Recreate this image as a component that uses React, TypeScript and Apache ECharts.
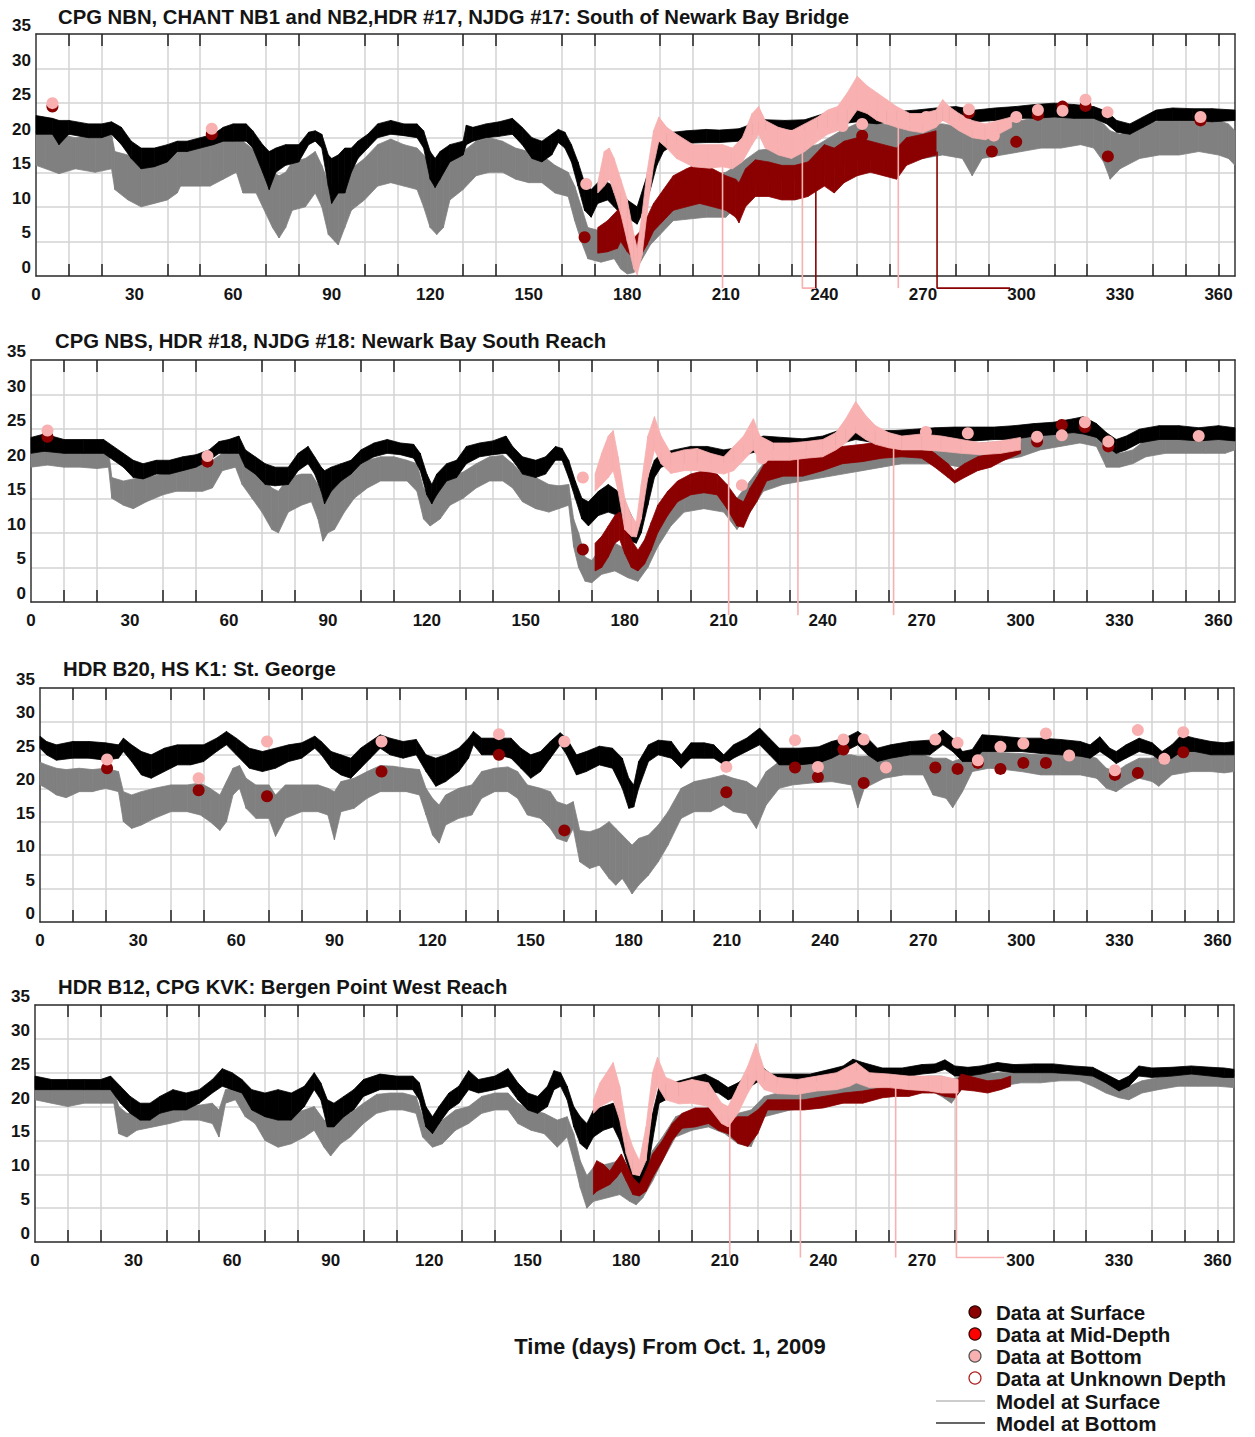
import React, { useEffect, useRef } from "react";
import * as echarts from "echarts";

// Salinity (psu) vs. time (days from Oct. 1, 2009) at four stations.
// Model series are stored as [day, low, high] envelopes of the tidal signal,
// continuous measurements likewise; discrete casts are [day, salinity].

type Band = [number, number, number][];
type Pt = [number, number][];

const DAY_LABELS = [0, 30, 60, 90, 120, 150, 180, 210, 240, 270, 300, 330, 360];
const DAY_MINOR = [10, 20, 40, 50, 70, 80, 100, 110, 130, 140, 160, 170, 190, 200, 220, 230, 250, 260, 280, 290, 310, 320, 340, 350, 360];

const TITLES = [
  "CPG NBN, CHANT NB1 and NB2,HDR #17, NJDG #17: South of Newark Bay Bridge",
  "CPG NBS, HDR #18, NJDG #18: Newark Bay South Reach",
  "HDR B20, HS K1: St. George",
  "HDR B12, CPG KVK: Bergen Point West Reach",
];
const X_CAPTION = "Time (days) From Oct. 1, 2009";
const LEGEND_LABELS = [
  "Data at Surface",
  "Data at Mid-Depth",
  "Data at Bottom",
  "Data at Unknown Depth",
  "Model at Surface",
  "Model at Bottom",
];

/* ---------------- Panel 1: South of Newark Bay Bridge ---------------- */
const P1_MODEL_SURF: Band = [
  [0, 16, 21.5], [3, 15.5, 20.5], [7, 14.8, 20.5], [12, 15.5, 20], [18, 15, 20.5], [23, 15.5, 20.5],
  [24, 12.5, 18], [28, 11, 17.5], [32, 10, 16.5], [36, 10.5, 16], [40, 11, 17], [43, 12, 18],
  [44, 13, 18.5], [50, 13, 18.5], [53, 13, 19], [57, 14, 20.5], [61, 15, 20.5], [63, 12, 19.5],
  [67, 12, 18], [70, 9, 16], [72, 7, 15], [74, 5.5, 14.5], [76, 7, 15], [78, 9.5, 16.5], [82, 10, 17],
  [85, 12, 18], [87, 10, 16], [89, 6, 13.5], [91, 5, 13], [92, 4.5, 13.5], [94, 7, 14.5], [96, 9.5, 15.5],
  [100, 11, 17], [104, 13, 19], [108, 13.5, 19.8], [112, 13, 19], [116, 12.5, 18.5], [118, 10, 17.5],
  [120, 7, 16], [122, 6, 15.5], [124, 7, 16], [126, 11, 17.5], [130, 12.5, 18], [134, 14.5, 19.5],
  [138, 15, 20], [142, 15, 19.5], [146, 14, 18.5], [150, 13.5, 18], [154, 13.5, 17.5], [158, 12, 16],
  [162, 11.5, 15], [164, 8, 13], [166, 5, 10], [168, 2.5, 7], [172, 2, 6.5], [176, 2.5, 7], [178, 1, 6],
  [180, 0.3, 4], [182, 0.5, 4.5], [184, 2, 6.5], [187, 4.5, 9], [190, 6, 10.5], [194, 8, 13],
  [198, 8.2, 14], [204, 8.5, 14.5], [210, 8.5, 15], [215, 11, 16.5], [220, 13.5, 18.2], [226, 14, 18.5],
  [232, 14, 18.5], [238, 14, 19], [245, 16, 21], [252, 17, 22.5], [258, 17, 22], [264, 17, 21.5],
  [270, 17, 22], [276, 17.5, 22], [282, 17, 21.5], [285, 14.5, 21], [288, 17, 21.5], [294, 17.5, 22],
  [300, 18, 22.5], [306, 18.5, 23], [312, 18.5, 23], [318, 19, 23.5], [322, 18.5, 23], [325, 16.5, 22],
  [327, 14, 21], [330, 15.5, 20.5], [336, 17, 21.5], [342, 17.5, 22.5], [348, 17.5, 22.5],
  [354, 18, 22.5], [360, 17.5, 22.5], [363, 17, 22], [365, 16, 21],
];
const P1_MODEL_BOT: Band = [
  [0, 20.5, 23.2], [5, 20.5, 22.8], [7, 19, 22.5], [10, 20.5, 22.5], [16, 20, 22], [20, 20, 22],
  [23, 20.5, 22.3], [26, 19, 21.5], [29, 17, 19.5], [32, 15.5, 18.5], [36, 15.8, 18.5], [40, 16.5, 19],
  [43, 18, 19.5], [46, 18, 19.5], [50, 18.5, 20], [54, 19, 20.5], [57, 19.5, 21.5], [60, 19.5, 22],
  [64, 19.5, 22], [66, 18.5, 21], [69, 15, 19], [71, 12.5, 18], [73, 15, 18.5], [76, 16, 19],
  [80, 16.5, 19], [83, 19, 20.8], [85, 19.5, 21], [87, 18.5, 20.5], [89, 13, 17.5], [90, 10.5, 17],
  [92, 12, 17.5], [94, 12, 18.5], [96, 15, 18.5], [98, 17, 19.5], [101, 18.5, 20.5], [104, 20, 22],
  [108, 20.5, 22.5], [112, 20.3, 22], [116, 20, 22], [118, 18.5, 21], [120, 14, 18], [121.5, 12.8, 17],
  [123, 14, 18], [126, 16.5, 19], [130, 17.5, 19.5], [131, 19, 21.8], [133, 19.5, 21.5], [137, 20, 22],
  [141, 20.2, 22.3], [145, 20.5, 22.8], [148, 19, 21.5], [151, 17, 20], [154, 16.5, 19.5],
  [157, 17.5, 20.5], [159, 19.3, 21.2], [161, 18.5, 20.8], [163, 16.5, 19], [165, 13, 16.5],
  [167, 9.5, 13.5], [169, 8.5, 12.5], [171, 10.5, 13.5], [174, 11, 13.5], [176, 10, 13], [178, 9, 12],
  [180, 8.5, 11], [183, 7.5, 10], [185, 9.5, 13], [187, 12.5, 16], [189, 16, 19], [191, 18, 20.5],
  [194, 19, 20.8], [198, 19.2, 21], [204, 19.3, 21.2], [208, 19.3, 21.1], [214, 19.5, 21.3],
  [218, 20.5, 22], [222, 21.2, 22.6], [228, 21.2, 22.5], [234, 21.1, 22.6], [240, 21.5, 23.5],
  [245, 22, 24], [250, 22.3, 24.2], [256, 22, 23.8], [262, 22.5, 23.8], [268, 22.5, 24],
  [274, 22.5, 24.3], [280, 22.5, 24.5], [286, 22.3, 24], [292, 22.5, 24.3], [298, 22.8, 24.5],
  [304, 22.8, 24.8], [310, 23, 25], [316, 22.8, 24.8], [322, 22.8, 24.5], [326, 22, 23.8],
  [329, 20.8, 22.5], [333, 20.5, 22], [337, 21.5, 23], [341, 22.5, 24], [346, 22.5, 24.3],
  [352, 22.5, 24.2], [358, 22.3, 24.2], [365, 22.5, 24],
];
const P1_DATA_SURF: Band = [
  [171, 3.3, 7], [174, 3.5, 8], [177, 4, 9.5], [178, 5, 10], [180, 3.5, 8], [182, 2.5, 5.5],
  [184, 2.9, 6.5], [186, 4.5, 8.5], [188, 6.5, 10.5], [191, 8, 12.5], [194, 9.5, 14.5],
  [198, 10, 15.5], [202, 10.5, 16.3], [206, 10, 15.5], [210, 9.5, 14.5], [213, 8.5, 14],
  [214, 7.7, 13.5], [216, 10, 15.5], [219, 11.5, 16.8], [223, 11.5, 16.5], [227, 11, 16],
  [231, 11, 16], [235, 11.5, 16.5], [240, 13, 19], [243, 12, 18.5], [246, 13.5, 19.5],
  [250, 14.5, 20], [254, 15, 19.5], [258, 14.5, 19], [262, 14, 18.5], [265, 16, 20], [270, 17, 20.5],
  [274, 17.5, 21],
];
const P1_DATA_BOT: Band = [
  [171, 12, 13.5], [173, 13, 18], [174.5, 14, 18.5], [176, 12, 17], [178, 9, 14], [180, 5, 11],
  [182, 1, 6], [183, 0.2, 4], [184.5, 3, 9], [186, 9, 15], [188, 16, 21], [189.6, 19.5, 23],
  [192, 18.5, 21.5], [195, 17, 20.5], [200, 15.8, 19], [205, 15.6, 19], [209, 15.8, 19],
  [212, 15.5, 18.5], [215, 16.5, 20], [218, 19, 23.5], [220, 20.5, 24.5], [222, 18.5, 22.5],
  [226, 17.5, 21.5], [230, 17, 21], [234, 18, 22], [238, 19.5, 23], [241, 20.5, 24], [244, 21, 24.5],
  [247, 22, 26.5], [250, 24, 28.9], [253, 23.5, 27.5], [256, 22.5, 26.5], [259, 22, 25.5],
  [262, 21.5, 24.5], [266, 21, 23.5], [270, 20.7, 23.5], [274, 21.5, 24], [276, 22.5, 25.5],
  [278, 22, 24.5], [281, 21, 23.5], [285, 20, 22.5], [289, 19.7, 22], [293, 20.5, 22.5],
  [297, 21.5, 23],
];
const P1_DOTS_SURF: Pt = [
  [5, 24.5], [53.5, 20.5], [167, 5.6], [251.5, 20.3], [284, 23.6], [291, 18], [298.4, 19.4],
  [305, 23.3], [312.5, 24.5], [319.5, 24.6], [326.3, 17.3], [354.5, 22.5],
];
const P1_DOTS_BOT: Pt = [
  [5, 25], [53.5, 21.3], [167.5, 13.3], [245.5, 21.7], [251.5, 22], [271, 23], [284, 24.1],
  [291.6, 20.3], [298.4, 23], [305, 24], [312.5, 23.9], [319.5, 25.5], [326.2, 23.7], [354.5, 23],
];
const P1_GAPS_BOT: Pt[] = [
  [[209, 16], [209, -1.75]],
  [[233.3, 20], [233.3, -1.75], [237.4, -1.75]],
  [[262.5, 23], [262.5, -1.75]],
];
const P1_GAPS_SURF: Pt[] = [
  [[237.4, -1.75], [237.4, 17]],
  [[274.3, 18], [274.3, -1.75], [296.5, -1.75]],
];

/* ---------------- Panel 2: Newark Bay South Reach ---------------- */
const P2_MODEL_SURF: Band = [
  [0, 19.5, 22.5], [5, 19.8, 22.3], [10, 19.5, 22], [15, 19.5, 22], [20, 19.3, 21.8], [23.5, 19.5, 22],
  [24.5, 15, 18], [28, 14, 17.5], [31, 13.5, 17.8], [35, 14.5, 18], [40, 15.5, 18.5], [44, 16, 19],
  [48, 16, 19.5], [52, 16, 20], [55, 16.5, 20.5], [58, 19, 21.5], [62, 19.5, 22], [64, 17, 20.5],
  [67, 15, 19.5], [70, 13, 18], [73, 10.5, 16.5], [75, 10, 16], [78, 13, 18], [82, 14, 18.5],
  [85, 14.5, 18.5], [87, 12, 17], [88.5, 8.8, 15.5], [90, 10, 16], [92, 10.5, 16.5], [95, 13, 18],
  [98, 15, 19.5], [102, 16.5, 20.5], [106, 17.5, 21], [110, 17.5, 21], [114, 17.5, 20.5], [117, 16, 20],
  [119, 12, 16.5], [121, 11, 15.5], [124, 12, 16.5], [127, 14, 18], [131, 15, 18.8], [135, 16.5, 20],
  [139, 17.5, 21], [143, 17.5, 21.2], [146, 16.5, 20], [149, 14.5, 18.5], [153, 13.5, 18],
  [157, 13, 17], [160, 13.5, 16.8], [163, 14, 17], [164.5, 8, 12], [166, 5, 10], [168, 3, 6.5],
  [170, 2.8, 6], [173, 4, 8], [177, 4.5, 8.5], [181, 3.5, 7.5], [184, 3, 7], [187, 5, 9.5],
  [190, 8, 13], [194, 11, 16], [198, 13, 17], [204, 13.5, 17.5], [210, 13, 17], [214, 10.5, 15],
  [218, 13, 17.5], [222, 16, 20], [228, 17, 20.5], [234, 17.5, 21], [240, 18, 21.5], [246, 18.5, 22],
  [252, 19, 22.5], [258, 19.5, 22.5], [264, 20, 23], [270, 20, 23], [276, 20, 23], [282, 19.5, 22.5],
  [288, 20, 23], [294, 20.5, 23.2], [300, 21, 23.5], [306, 22, 24.5], [312, 22.5, 25], [318, 23, 25],
  [323, 22.5, 24.5], [326, 19.5, 22.5], [330, 19.5, 21.5], [334, 20, 22], [338, 21, 23.5],
  [344, 21.5, 24], [350, 21.5, 24.2], [356, 21.5, 24], [362, 21.5, 24.5], [365, 22, 24.5],
];
const P2_MODEL_BOT: Band = [
  [0, 21.5, 23.8], [4, 21.8, 24.3], [10, 21.5, 23.5], [16, 21.5, 23.5], [22, 21.5, 23.5],
  [25, 20.5, 22.5], [28, 19.5, 21.5], [31, 18, 20.5], [34, 17.8, 20], [38, 18.5, 20.5],
  [42, 18.5, 20.5], [46, 19, 21], [50, 19.5, 21.3], [54, 20.5, 22], [57, 21.5, 23.2], [60, 21.5, 23.5],
  [63, 21.5, 24], [65, 19.5, 22], [68, 18.5, 21], [71, 17, 20], [74, 16.8, 19.5], [78, 17, 19.5],
  [81, 19, 21.5], [84, 20, 22.5], [86, 18.5, 21], [88, 16, 19.5], [89, 14.2, 19], [91, 16, 19.5],
  [94, 17.5, 20], [97, 18.5, 20.5], [100, 20, 22], [104, 21, 23], [108, 21.5, 23.5], [112, 21.3, 23],
  [116, 20.8, 22.8], [118, 19, 21.5], [120, 15.5, 18.5], [121.5, 14.2, 17], [123, 15.5, 18.5],
  [126, 17.5, 20], [129, 18, 20.5], [132, 20, 22.5], [136, 21, 23], [140, 21.3, 23.3], [144, 21.5, 24],
  [146, 20.5, 22.5], [149, 18.5, 21], [153, 18, 20.5], [156, 18.5, 21], [159, 20.5, 22.5],
  [161, 20.5, 22.2], [163, 18, 20.5], [165, 15, 17.5], [167, 12, 15], [169, 11, 14.5],
  [172, 12.5, 16], [175, 13, 17], [178, 12.5, 16], [180, 11, 14.5], [182, 8.8, 12.5],
  [183.5, 8.5, 11], [185, 10, 14], [187, 14, 18], [189, 18, 20.5], [191, 19.5, 21.5], [195, 20, 22],
  [200, 20.2, 22.5], [205, 20.3, 22.5], [210, 20.2, 22], [214, 20.5, 22.3], [218, 21.5, 23.3],
  [222, 22, 24], [228, 22.2, 23.8], [234, 22, 23.6], [240, 22.2, 24], [246, 23, 25], [250, 23.5, 25.3],
  [256, 23, 24.8], [262, 22.8, 24.8], [268, 23, 25], [274, 23.2, 25.2], [280, 23.3, 25.3],
  [286, 23.3, 25.3], [292, 23.5, 25.3], [298, 23.5, 25.5], [304, 24, 25.8], [310, 24.2, 26],
  [316, 24.5, 26.5], [319, 24.3, 26.8], [323, 23.8, 25.8], [326, 22.5, 24.5], [329, 21.5, 23.5],
  [332, 22, 24], [336, 23, 25], [342, 23.5, 25.5], [348, 23.5, 25.5], [354, 23.3, 25.2],
  [360, 23.5, 25.5], [365, 23.3, 25.2],
];
const P2_DATA_SURF: Band = [
  [171, 4.5, 8.5], [173, 5, 9.5], [175, 6.5, 11], [177, 8.5, 12.5], [178.5, 9, 13], [180, 7, 11],
  [182, 5, 9], [184, 4.5, 7.5], [186, 5.5, 9], [188, 7.5, 11.5], [190, 10, 14], [193, 12.5, 16],
  [196, 14.5, 17.5], [200, 15.5, 18.5], [204, 15.8, 19], [208, 15.5, 18.5], [211, 13.5, 17],
  [214, 11, 15], [216, 10.8, 14.5], [218, 13, 16.5], [220, 14.5, 18], [223, 17.5, 20.5],
  [228, 18.2, 21], [234, 18.2, 21], [240, 19, 22], [246, 20, 22.5], [252, 20.3, 22.8],
  [258, 20.8, 23.2], [264, 21, 23.3], [270, 20.8, 23], [274, 19.5, 21.5], [278, 18, 20],
  [280, 17.2, 19], [283, 18, 20], [287, 19, 21], [291, 19.5, 21.5], [295, 20.5, 22.3], [300, 21.5, 23],
];
const P2_DATA_BOT: Band = [
  [171, 16, 18.5], [173, 17, 21.5], [175, 18, 24], [176.5, 19, 24.8], [178, 16, 21], [180, 10.5, 15],
  [182, 9.5, 12.5], [183.5, 9.4, 11.5], [185, 12, 17], [187, 18, 24], [189, 22, 26.8], [191, 20, 24],
  [194, 18.6, 21.5], [198, 19, 22], [202, 19, 22.2], [206, 18.8, 21.5], [210, 18.5, 21],
  [213, 19, 22.5], [216, 20.5, 24], [219, 22, 26.5], [221, 20.5, 24], [225, 20.5, 23], [230, 20.5, 23],
  [235, 20.8, 23.2], [240, 21, 23.5], [244, 22, 24.5], [247, 23, 26.5], [250, 24.5, 29],
  [253, 23.5, 27], [256, 22.8, 25.5], [260, 22.3, 24.5], [264, 22, 24], [270, 22, 24.3],
  [276, 21.8, 24], [282, 21.5, 23.5], [288, 21.3, 23], [294, 21.5, 23.3], [300, 22, 23.8],
];
const P2_DOTS_SURF: Pt = [
  [5, 23.9], [53.5, 20.3], [167.3, 7.6], [305, 23.2], [312.5, 25.6], [319.5, 25.3], [326.6, 22.5],
];
const P2_DOTS_BOT: Pt = [
  [5, 24.8], [53.5, 21.1], [167.3, 18], [215.5, 16.9], [221.7, 20.8], [271.3, 24.6], [284, 24.4],
  [305, 23.9], [312.5, 24.1], [319.5, 26], [326.6, 23.2], [354, 24],
];
const P2_GAPS_BOT: Pt[] = [
  [[211.5, 20], [211.5, -1.9]],
  [[232.5, 21], [232.5, -1.9]],
  [[261.5, 23], [261.5, -1.9]],
];
const P2_GAPS_SURF: Pt[] = [];

/* ---------------- Panel 3: St. George ---------------- */
const P3_MODEL_SURF: Band = [
  [0, 20.5, 23.9], [2, 20, 23.5], [5, 19, 23], [8, 18.6, 22.8], [12, 19.5, 23], [16, 19.5, 22.8],
  [20, 20, 23], [24, 19.5, 22.5], [25.5, 15, 19.5], [28, 14, 19], [31, 14.5, 19.5], [35, 15.5, 20],
  [40, 16.5, 20.5], [45, 16.5, 20.5], [49, 16, 20.8], [52, 15, 20], [55, 13.7, 19], [57, 15, 21],
  [59, 19, 23], [61, 20, 23.4], [63, 17, 21.5], [66, 15.5, 20.5], [70, 15.5, 20.5], [72, 12.8, 19],
  [75, 15.5, 20.5], [80, 16.5, 20.5], [85, 16.5, 20.5], [88, 16, 20], [90, 12.3, 19.5], [92, 16.5, 21],
  [96, 17, 21.5], [100, 18.5, 22.5], [104, 19.5, 23.4], [108, 19.5, 23.3], [112, 19.5, 23],
  [116, 19, 22.8], [118, 16, 20], [120, 13, 18.5], [122, 11.8, 17.5], [124, 14.5, 19], [128, 15.5, 20],
  [132, 16, 20.5], [135, 18.5, 22.5], [139, 19.5, 23], [143, 19.5, 23.2], [146, 18.5, 22.5],
  [149, 16, 20.5], [153, 15.5, 20], [156, 14, 19.5], [158, 12.5, 18], [161, 12, 17.5], [163, 14, 18],
  [165, 9, 13.7], [168, 8, 13.5], [171, 8.5, 14], [174, 6.5, 15], [176, 5.5, 14], [178, 6.5, 13],
  [180, 5, 12], [181, 4.2, 11.5], [183, 5.5, 12.5], [186, 7, 13], [189, 9, 14.5], [192, 11.5, 16.5],
  [196, 15.5, 20], [200, 16.5, 21], [205, 16.5, 21.5], [209, 17.5, 22], [212, 16.5, 21.5],
  [216, 16.2, 21], [219, 14, 20], [222, 17.5, 22.5], [226, 20, 24], [230, 20.5, 24.5],
  [236, 20.8, 24.8], [242, 21, 25], [248, 20.5, 25], [250, 17.1, 24.8], [252, 20, 24.8],
  [258, 21.5, 25], [264, 22, 25], [270, 22, 25], [273, 19, 24.5], [277, 18.5, 24.5], [279, 17.1, 24],
  [282, 19.5, 24.5], [285, 22.5, 25.3], [290, 23, 25.5], [295, 22.8, 25.3], [300, 22.5, 25.2],
  [306, 22, 25], [312, 22, 25], [318, 22, 25.2], [323, 21.5, 24.5], [326, 20, 23], [329, 19.5, 22.5],
  [332, 20.5, 23.5], [336, 21.5, 24.5], [340, 21, 24.5], [342, 20.3, 24.8], [346, 22, 25.5],
  [352, 22.5, 25.8], [358, 22.5, 25.5], [362, 22.3, 25.7], [365, 22.5, 25.8],
];
const P3_MODEL_BOT: Band = [
  [0, 26, 27.8], [2, 25, 27], [5, 24.2, 26.5], [10, 24.5, 27], [15, 24.5, 27], [20, 24.2, 26.8],
  [24, 24.5, 26.5], [25.5, 25.5, 27.5], [28, 24, 26.5], [31, 22, 25.5], [34, 21.5, 25], [38, 22.5, 26],
  [42, 23.5, 26.5], [46, 23.5, 26.5], [50, 24, 26.5], [54, 25.5, 27.5], [57, 26.5, 28.5], [60, 25, 27.5],
  [64, 23, 26], [68, 22.5, 25.5], [72, 23, 26], [76, 24, 26.5], [80, 24.5, 26.8], [84, 26, 27.8],
  [86, 25, 27], [89, 23, 25.5], [92, 22, 25], [95, 21.5, 24.5], [98, 23, 26], [101, 24.5, 27],
  [104, 26, 28], [107, 25, 27.5], [111, 24.5, 27], [115, 25, 27.3], [118, 22.5, 25], [121, 20.3, 24.5],
  [124, 21, 25], [128, 22.5, 26], [131, 24.5, 27.5], [132.5, 26.5, 28.5], [135, 25, 27.5],
  [140, 25, 27.5], [144, 24.5, 27.5], [147, 23, 26], [150, 21.5, 25], [153, 22.5, 25.5],
  [156, 24.5, 27], [159, 26.5, 28.3], [161, 25, 27.5], [164, 22, 25], [167, 22.5, 25.5],
  [171, 23.5, 26.3], [175, 23, 26], [178, 20, 24.5], [180, 17, 21.5], [181.5, 17.2, 20.5],
  [183, 20, 24], [186, 24, 26.5], [189, 25, 27.2], [193, 24.5, 27], [196, 23, 25], [199, 24.5, 26.8],
  [203, 24.5, 26.8], [206, 24.5, 26.5], [209, 23.5, 25], [212, 24.5, 26.5], [216, 25.5, 27.5],
  [220, 26.5, 29], [223, 25, 27.5], [226, 23.5, 26], [232, 23.5, 26], [238, 23.8, 26.2],
  [242, 24.5, 27], [246, 25.5, 27.5], [250, 26.5, 28.5], [253, 25, 27.5], [256, 24, 26],
  [260, 24.5, 26.5], [266, 25, 27], [272, 25, 27.2], [276, 26.5, 28.7], [279, 25.5, 27.5],
  [282, 24, 25.5], [285, 24, 25.8], [288, 25.5, 28], [294, 25.5, 27.8], [300, 25.5, 27.5],
  [306, 25.2, 27.5], [312, 25, 27.3], [318, 24.8, 27], [321, 24.5, 26.5], [324, 25.5, 27.7],
  [327, 24.5, 26], [329, 23.7, 25.5], [332, 24.5, 26.5], [336, 25.5, 27.5], [340, 25, 26.8],
  [343, 24, 25.5], [346, 24.5, 26.5], [349, 25.5, 28], [353, 25.5, 27.5], [358, 25, 27],
  [362, 25, 26.8], [365, 25, 27],
];
const P3_DATA_SURF: Band = [];
const P3_DATA_BOT: Band = [];
const P3_DOTS_SURF: Pt = [
  [20.5, 23], [48.5, 19.7], [69.4, 18.8], [104.4, 22.5], [140.3, 25], [160.3, 13.7], [209.8, 19.4],
  [230.8, 23.1], [237.8, 21.7], [245.6, 25.8], [251.8, 20.8], [273.7, 23.1], [280.5, 22.9],
  [286.7, 23.8], [293.6, 22.9], [300.6, 23.8], [307.5, 23.8], [328.6, 22], [335.6, 22.3], [349.5, 25.4],
];
const P3_DOTS_BOT: Pt = [
  [20.5, 24.3], [48.5, 21.5], [69.4, 27], [104.4, 27], [140.3, 28.1], [160.3, 27], [209.8, 23.2],
  [230.8, 27.2], [237.8, 23.2], [245.6, 27.3], [251.8, 27.3], [258.6, 23.1], [273.7, 27.3],
  [280.5, 26.8], [286.7, 24.2], [293.6, 26.2], [300.6, 26.7], [307.5, 28.2], [314.6, 24.9],
  [328.6, 22.7], [335.6, 28.7], [343.7, 24.4], [349.5, 28.4],
];
const P3_GAPS_BOT: Pt[] = [];
const P3_GAPS_SURF: Pt[] = [];

/* ---------------- Panel 4: Bergen Point West Reach ---------------- */
const P4_MODEL_SURF: Band = [
  [0, 21, 22.8], [5, 20.5, 22.8], [10, 20, 22.5], [15, 20.5, 22.5], [20, 20.5, 22.8], [24, 20.5, 22.5],
  [25.5, 16, 20], [28, 15.5, 19], [31, 16.5, 19], [36, 17, 19], [41, 17.5, 19.5], [45, 18, 20],
  [50, 18, 20.2], [54, 17.5, 20.5], [56, 15.5, 19.5], [58, 20.5, 22.5], [61, 21, 22.8],
  [64, 18.5, 21.5], [67, 17.5, 20.5], [70, 15, 19.5], [74, 14, 19], [78, 14.5, 19], [82, 15.5, 19.5],
  [85, 16.5, 20], [88, 14, 18], [90, 12.7, 17.5], [93, 14.5, 18.5], [96, 15.5, 19], [100, 17.5, 20.5],
  [104, 19, 21.8], [108, 19.5, 22], [112, 19.5, 22], [116, 19, 21.5], [118, 15.5, 18.5],
  [121, 14, 17.5], [124, 14.5, 18], [128, 16.5, 19.5], [132, 17.5, 20], [136, 19, 21.5],
  [140, 19.5, 22], [144, 19.5, 22], [147, 17.5, 20.5], [151, 16.5, 19.5], [155, 16, 19],
  [159, 14, 18], [162, 15.5, 18.5], [164, 12, 16], [166, 8, 12], [168, 5, 9.8], [170, 6, 11],
  [174, 6.5, 11.5], [178, 7, 12], [181, 6, 10.5], [183, 5.5, 9], [185, 6.5, 10], [188, 9, 13.5],
  [191, 12, 15.5], [195, 15.5, 18.5], [200, 16.5, 19.5], [205, 17, 19.8], [210, 16, 18.5],
  [214, 14.5, 19], [218, 14.1, 19.5], [222, 18.5, 21.5], [230, 19.5, 22.5], [240, 20, 23],
  [248, 21, 23.5], [254, 22, 24.2], [260, 22, 24], [266, 22, 24.2], [272, 22.5, 24.5],
  [276, 21.5, 24.5], [279, 20.5, 24], [282, 22.5, 24.5], [288, 23, 24.8], [294, 23, 25],
  [300, 23.5, 25], [306, 23.5, 25.2], [312, 23.8, 25.3], [318, 23.8, 25.2], [322, 23, 24.8],
  [326, 22, 23.8], [330, 21.3, 22.8], [333, 21, 23], [337, 22, 23.8], [342, 22.5, 24.3],
  [348, 23, 24.8], [354, 23, 24.8], [360, 23, 24.8], [365, 22.8, 24.5],
];
const P4_MODEL_BOT: Band = [
  [0, 22.5, 24.5], [5, 22.5, 24], [10, 22.5, 24], [15, 22.5, 24], [20, 22.5, 24], [23, 22.5, 24.5],
  [26, 20.5, 23], [29, 19, 21.5], [32, 18, 20.5], [35, 18, 20.5], [38, 19, 21.5], [42, 19.5, 22.5],
  [46, 19.5, 22], [50, 20.5, 22.5], [54, 22, 24], [57, 23, 25.6], [60, 22.5, 25], [63, 22, 24],
  [66, 19.5, 22.5], [70, 18.5, 22], [74, 18, 22.5], [78, 18, 22], [82, 20, 23], [85, 22.5, 25],
  [87, 21, 23.5], [89, 17, 21], [91, 17, 20.5], [94, 18.5, 21.5], [97, 19.5, 22.5], [100, 21.5, 24],
  [105, 22.5, 24.8], [110, 22.5, 24.5], [115, 22.5, 24.5], [117, 21, 23.5], [119, 17, 20],
  [121, 16, 18.5], [123, 17.5, 20], [126, 19.5, 22], [129, 20.5, 23], [132, 22.5, 25.3],
  [135, 22, 24], [140, 22.5, 24.5], [144, 23, 25.6], [147, 21, 23.5], [150, 19.5, 22],
  [153, 19, 21.5], [156, 20, 23], [158, 22.5, 25.3], [160, 23, 25], [162, 21, 23], [164, 17, 20],
  [166, 14.5, 18.5], [168, 13.7, 17.5], [170, 15.5, 19.5], [173, 16.5, 20], [176, 17, 20.5],
  [178, 15, 19], [180, 12, 16], [182, 8.5, 11.5], [184, 7.9, 10.3], [186, 9, 12.5], [188, 15, 19],
  [190, 20.5, 23], [194, 21.5, 23.5], [200, 22, 24.3], [204, 22.5, 24.8], [208, 22, 23.8],
  [211, 21, 22.8], [214, 21.5, 23.5], [218, 23, 25], [221, 24, 26], [224, 23.3, 24.8],
  [230, 23.5, 24.8], [236, 23.5, 24.8], [242, 24, 25.5], [246, 24.5, 26], [249, 25.5, 27],
  [252, 25, 26.5], [258, 24.3, 25.7], [264, 24.3, 25.7], [270, 24.8, 26.2], [274, 25, 26.3],
  [277, 25.5, 26.9], [280, 24.5, 26], [284, 24.5, 25.8], [288, 24.8, 26], [293, 25.3, 26.5],
  [298, 25, 26.2], [304, 25, 26.3], [310, 25, 26.3], [316, 24.8, 26], [322, 24.5, 25.8],
  [326, 23.5, 24.8], [330, 22.3, 23.8], [333, 23, 24.5], [336, 24.5, 26], [340, 24.3, 25.7],
  [346, 24.5, 25.8], [352, 24.8, 26], [358, 24.5, 25.8], [362, 24.3, 25.7], [365, 24.3, 25.5],
];
const P4_DATA_SURF: Band = [
  [170, 7, 11], [171, 7.5, 12], [173, 8, 11.5], [175, 8.5, 10.5], [177, 9.5, 12], [178.5, 10.5, 13],
  [180, 9, 11.5], [182, 7, 9.5], [184, 6.8, 8.5], [186, 7.5, 10.5], [188, 9.5, 13], [191, 12, 15],
  [194, 15, 17.5], [197, 16.8, 19], [201, 17, 19.8], [205, 17.5, 19.8], [208, 16.5, 18.5],
  [211, 16, 18], [214, 14.6, 18.5], [217, 14.1, 18.5], [220, 16, 19.5], [223, 19.5, 21],
  [228, 19.5, 21], [234, 19.5, 21], [240, 19.8, 21.5], [246, 20.5, 22], [252, 20.5, 22.3],
  [258, 21.3, 22.8], [262, 21.5, 23.3], [266, 21.5, 23], [270, 22, 23.3], [274, 22, 23.5],
  [277, 21.5, 23.5], [280, 21.3, 23.3], [282, 22.5, 24.8], [286, 22.3, 24.3], [290, 22, 23.8],
  [294, 22.5, 24], [297, 23, 24.5],
];
const P4_DATA_BOT: Band = [
  [170, 19, 21], [172, 20, 23.5], [174, 20.5, 25], [176, 21, 26.5], [178, 18, 23], [180, 13, 17],
  [182, 10, 14], [184, 9.8, 12], [186, 12, 17], [188, 20, 25], [189.5, 23, 27.3], [192, 21, 24.3],
  [196, 20.4, 23.5], [200, 20.5, 24], [205, 20, 23.5], [209, 17.5, 20.5], [211, 17, 20],
  [214, 19, 23], [217, 22, 26], [219.5, 24, 29.3], [222, 22.5, 25.5], [226, 21.9, 24.3],
  [232, 21.8, 24], [238, 22.3, 24.5], [244, 22.5, 25], [248, 23, 26], [250, 23.5, 26.5],
  [254, 22.8, 25], [260, 22.8, 24.8], [266, 22.5, 24.5], [272, 22.3, 24.5], [276, 22, 24.5],
  [281, 22, 24],
];
const P4_DOTS_SURF: Pt = [];
const P4_DOTS_BOT: Pt = [];
const P4_GAPS_BOT: Pt[] = [
  [[211.5, 18], [211.5, -2.3]],
  [[233, 22], [233, -2.3]],
  [[262, 23], [262, -2.3]],
  [[280.5, 23], [280.5, -2.3], [295, -2.3]],
];
const P4_GAPS_SURF: Pt[] = [];

const PANELS = [
  { gray: P1_MODEL_SURF, black: P1_MODEL_BOT, surf: P1_DATA_SURF, bott: P1_DATA_BOT, surfDots: P1_DOTS_SURF, bottDots: P1_DOTS_BOT, gapsBot: P1_GAPS_BOT, gapsSurf: P1_GAPS_SURF },
  { gray: P2_MODEL_SURF, black: P2_MODEL_BOT, surf: P2_DATA_SURF, bott: P2_DATA_BOT, surfDots: P2_DOTS_SURF, bottDots: P2_DOTS_BOT, gapsBot: P2_GAPS_BOT, gapsSurf: P2_GAPS_SURF },
  { gray: P3_MODEL_SURF, black: P3_MODEL_BOT, surf: P3_DATA_SURF, bott: P3_DATA_BOT, surfDots: P3_DOTS_SURF, bottDots: P3_DOTS_BOT, gapsBot: P3_GAPS_BOT, gapsSurf: P3_GAPS_SURF },
  { gray: P4_MODEL_SURF, black: P4_MODEL_BOT, surf: P4_DATA_SURF, bott: P4_DATA_BOT, surfDots: P4_DOTS_SURF, bottDots: P4_DOTS_BOT, gapsBot: P4_GAPS_BOT, gapsSurf: P4_GAPS_SURF },
];

// Plot-area geometry of the four stacked panels (pixels).
const LAYOUT = [
  { left: 36, top: 34, width: 1199, height: 242, titleX: 58, titleY: 17 },
  { left: 31, top: 360, width: 1204, height: 242, titleX: 55, titleY: 341 },
  { left: 40, top: 688, width: 1194, height: 234, titleX: 63, titleY: 669 },
  { left: 35, top: 1005, width: 1199, height: 237, titleX: 58, titleY: 987 },
];

const FONT = '"Liberation Sans", Arial, Helvetica, sans-serif';
const INK = "#141414";
const GRID_LINE = "#d3d3d3";
const FRAME = "#333333";
const C_MODEL_SURF = "#808080";
const C_MODEL_BOT = "#000000";
const C_DATA_SURF = "#8b0000";
const C_DATA_MID = "#ff0000";
const C_DATA_BOT = "#f8b0b0";

function bandSeries(band: Band, color: string, axis: number, z: number) {
  return {
    type: "custom",
    xAxisIndex: axis,
    yAxisIndex: axis,
    data: band,
    encode: { x: 0, y: [1, 2] },
    silent: true,
    z,
    renderItem: (params: any, api: any) => {
      const i = params.dataIndex;
      if (i >= band.length - 1) return null;
      const a = band[i];
      const b = band[i + 1];
      const points = [
        api.coord([a[0], a[1]]),
        api.coord([b[0], b[1]]),
        api.coord([b[0], b[2]]),
        api.coord([a[0], a[2]]),
      ];
      return {
        type: "polygon",
        shape: { points },
        style: { fill: color, stroke: color, lineWidth: 0.8 },
      };
    },
  };
}

function gapSeries(path: Pt, color: string, axis: number) {
  return {
    type: "line",
    xAxisIndex: axis,
    yAxisIndex: axis,
    data: path,
    clip: false,
    symbol: "none",
    silent: true,
    z: 4,
    lineStyle: { color, width: 1.6 },
  };
}

function dotSeries(pts: Pt, color: string, axis: number, z: number) {
  return {
    type: "scatter",
    xAxisIndex: axis,
    yAxisIndex: axis,
    data: pts,
    symbol: "circle",
    symbolSize: 12,
    silent: true,
    z,
    itemStyle: { color, opacity: 1 },
  };
}

function buildOption() {
  const grid: any[] = [];
  const xAxis: any[] = [];
  const yAxis: any[] = [];
  const series: any[] = [];
  const graphic: any[] = [];

  const frameLine = { show: true, onZero: false, lineStyle: { color: FRAME, width: 1.5 } };
  const dayTicks = {
    show: true,
    inside: true,
    length: 12,
    customValues: DAY_MINOR,
    lineStyle: { color: "#222", width: 1.5 },
  };
  const labelFont = { color: INK, fontFamily: FONT, fontWeight: "bold", fontSize: 17 };

  LAYOUT.forEach((l, g) => {
    grid.push({ left: l.left, top: l.top, width: l.width, height: l.height, containLabel: false, outerBoundsMode: "none" });
    xAxis.push({
      type: "value", gridIndex: g, position: "bottom", min: 0, max: 365, interval: 30,
      axisLine: frameLine, axisTick: dayTicks,
      axisLabel: { ...labelFont, customValues: DAY_LABELS, margin: 10, formatter: (v: number) => (v % 30 === 0 ? String(v) : "") },
      splitLine: { show: true, lineStyle: { color: GRID_LINE, width: 1.5 } },
    });
    xAxis.push({
      type: "value", gridIndex: g, position: "top", min: 0, max: 365, interval: 30,
      axisLine: frameLine, axisTick: dayTicks, axisLabel: { show: false }, splitLine: { show: false },
    });
    yAxis.push({
      type: "value", gridIndex: g, position: "left", min: 0, max: 35, interval: 5,
      axisLine: frameLine, axisTick: { show: false },
      axisLabel: { ...labelFont, margin: 5, verticalAlign: "bottom", lineHeight: 17 },
      splitLine: { show: true, lineStyle: { color: GRID_LINE, width: 1.5 } },
    });
    yAxis.push({
      type: "value", gridIndex: g, position: "right", min: 0, max: 35, interval: 5,
      axisLine: frameLine, axisTick: { show: false }, axisLabel: { show: false }, splitLine: { show: false },
    });

    const p = PANELS[g];
    const ax = g * 2;
    series.push(bandSeries(p.gray, C_MODEL_SURF, ax, 2));
    series.push(bandSeries(p.black, C_MODEL_BOT, ax, 3));
    if (p.surf.length) series.push(bandSeries(p.surf, C_DATA_SURF, ax, 4));
    if (p.bott.length) series.push(bandSeries(p.bott, C_DATA_BOT, ax, 5));
    p.gapsBot.forEach((path) => series.push(gapSeries(path, C_DATA_BOT, ax)));
    p.gapsSurf.forEach((path) => series.push(gapSeries(path, C_DATA_SURF, ax)));
    if (p.surfDots.length) series.push(dotSeries(p.surfDots, C_DATA_SURF, ax, 6));
    if (p.bottDots.length) series.push(dotSeries(p.bottDots, C_DATA_BOT, ax, 7));

    graphic.push({
      type: "text", x: l.titleX, y: l.titleY, z: 10,
      style: {
        text: TITLES[g], fill: INK, font: `bold 20.3px ${FONT}`,
        align: "left", verticalAlign: "middle", textAlign: "left", textVerticalAlign: "middle",
      },
    });
  });

  graphic.push({
    type: "text", x: 670, y: 1346, z: 10,
    style: {
      text: X_CAPTION, fill: INK, font: `bold 22px ${FONT}`,
      align: "center", verticalAlign: "middle", textAlign: "center", textVerticalAlign: "middle",
    },
  });

  // Legend block (bottom right)
  const rowY = [1312, 1334, 1356, 1378, 1401, 1423];
  const markers = [
    { fill: C_DATA_SURF, stroke: "#2a0000" },
    { fill: C_DATA_MID, stroke: "#3a0000" },
    { fill: C_DATA_BOT, stroke: "#555" },
    { fill: "#ffffff", stroke: "#b22222" },
  ];
  markers.forEach((m, i) => {
    graphic.push({
      type: "circle", z: 10,
      shape: { cx: 975, cy: rowY[i], r: 6 },
      style: { fill: m.fill, stroke: m.stroke, lineWidth: 1.2 },
    });
  });
  graphic.push({ type: "line", z: 10, shape: { x1: 936, y1: rowY[4], x2: 985, y2: rowY[4] }, style: { stroke: "#9a9a9a", lineWidth: 1 } });
  graphic.push({ type: "line", z: 10, shape: { x1: 936, y1: rowY[5], x2: 985, y2: rowY[5] }, style: { stroke: "#333", lineWidth: 1.5 } });
  LEGEND_LABELS.forEach((t, i) => {
    graphic.push({
      type: "text", x: 996, y: rowY[i], z: 10,
      style: {
        text: t, fill: INK, font: `bold 20.5px ${FONT}`, lineHeight: 20,
        align: "left", verticalAlign: "middle", textAlign: "left", textVerticalAlign: "middle",
      },
    });
  });

  return {
    animation: false,
    backgroundColor: "#ffffff",
    grid,
    xAxis,
    yAxis,
    series,
    graphic,
  };
}

export default function App() {
  const ref = useRef<HTMLDivElement>(null);
  useEffect(() => {
    if (!ref.current) return;
    const chart = echarts.init(ref.current, null, { renderer: "svg" });
    chart.setOption(buildOption() as any);
    return () => chart.dispose();
  }, []);
  return (
    <div
      ref={ref}
      style={{ position: "absolute", left: 0, top: 0, width: 1255, height: 1437, background: "#fff" }}
    />
  );
}
